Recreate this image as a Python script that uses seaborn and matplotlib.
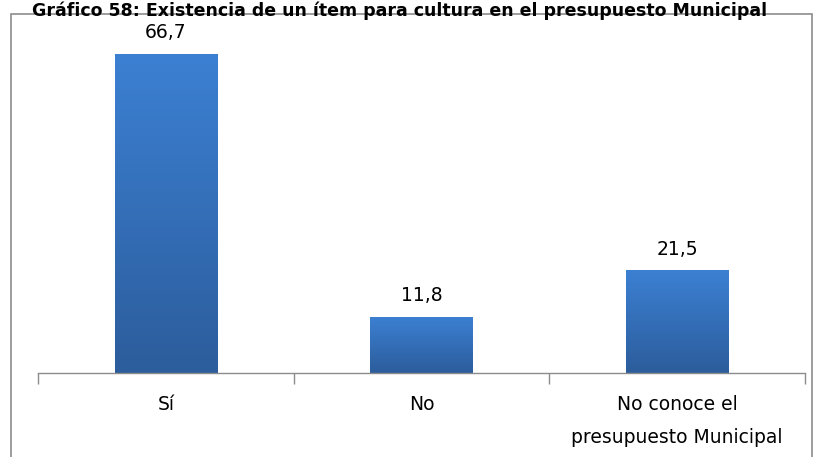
import matplotlib
matplotlib.use("Agg")
import matplotlib.pyplot as plt
import matplotlib.patches as mpatches
from matplotlib.colors import LinearSegmentedColormap
import numpy as np
import pandas as pd
import seaborn as sns

# datos
categorias = ["Sí", "No", "No conoce el\npresupuesto Municipal"]
valores = [66.7, 11.8, 21.5]
titulo = "Gráfico 58: Existencia de un ítem para cultura en el presupuesto Municipal"

df = pd.DataFrame({"categoria": categorias, "valor": valores})

sns.set_theme(style="white")
plt.rcParams["font.family"] = ["DejaVu Sans"]
plt.rcParams["text.color"] = "black"
plt.rcParams["xtick.color"] = "black"

fig = plt.figure(figsize=(8.13, 4.57), dpi=100)
ax = fig.add_axes([38 / 813, 1 - 373 / 457, (805 - 38) / 813, (373 - 38) / 457])

sns.barplot(data=df, x="categoria", y="valor", color="#3a7bcc", width=0.4,
            saturation=1, ax=ax)

# degradado sobre cada barra
cmap = LinearSegmentedColormap.from_list("azul", ["#2c5d9c", "#3c80d3"])
grad = np.linspace(0, 1, 256).reshape(-1, 1)
for bar in ax.patches:
    x0, y0 = bar.get_x(), bar.get_y()
    w, h = bar.get_width(), bar.get_height()
    im = ax.imshow(grad, cmap=cmap, aspect="auto", origin="lower",
                   extent=[x0, x0 + w, y0, y0 + h], zorder=bar.get_zorder() + 0.1)
    im.set_clip_path(bar)

# etiquetas de valor
for i, v in enumerate(valores):
    ax.annotate(f"{v:.1f}".replace(".", ","), (i, v), xytext=(0, 15),
                textcoords="offset points", ha="center", va="center",
                fontsize=13.5, color="black")

ax.set_xlim(-0.5, 2.5)
ax.set_ylim(0, 70)
ax.set_xlabel("")
ax.set_ylabel("")
ax.set_yticks([])
ax.set_xticks([0, 1, 2])
ax.set_xticklabels(categorias, fontsize=13.5, linespacing=1.95, va="top",
                   color="black")
ax.tick_params(axis="x", which="major", length=0, pad=16)
ax.set_xticks([-0.5, 0.5, 1.5, 2.5], minor=True)
ax.tick_params(axis="x", which="minor", length=8, width=1, color="#8c8c8c",
               bottom=True)
for s in ["top", "left", "right"]:
    ax.spines[s].set_visible(False)
ax.spines["bottom"].set_color("#8c8c8c")
ax.spines["bottom"].set_linewidth(1)

# marco del gráfico
marco = mpatches.Rectangle((10.5 / 813, -0.1), (811.5 - 10.5) / 813, 1 - 14.5 / 457 + 0.1,
                           transform=fig.transFigure, fill=False,
                           edgecolor="#8c8c8c", linewidth=1.2)
fig.patches.append(marco)

# título
fig.text(400 / 813, 1 - 1 / 457, titulo, ha="center", va="top",
         fontsize=12.5, fontweight="bold", color="black")

fig.savefig("out.png", dpi=100)
